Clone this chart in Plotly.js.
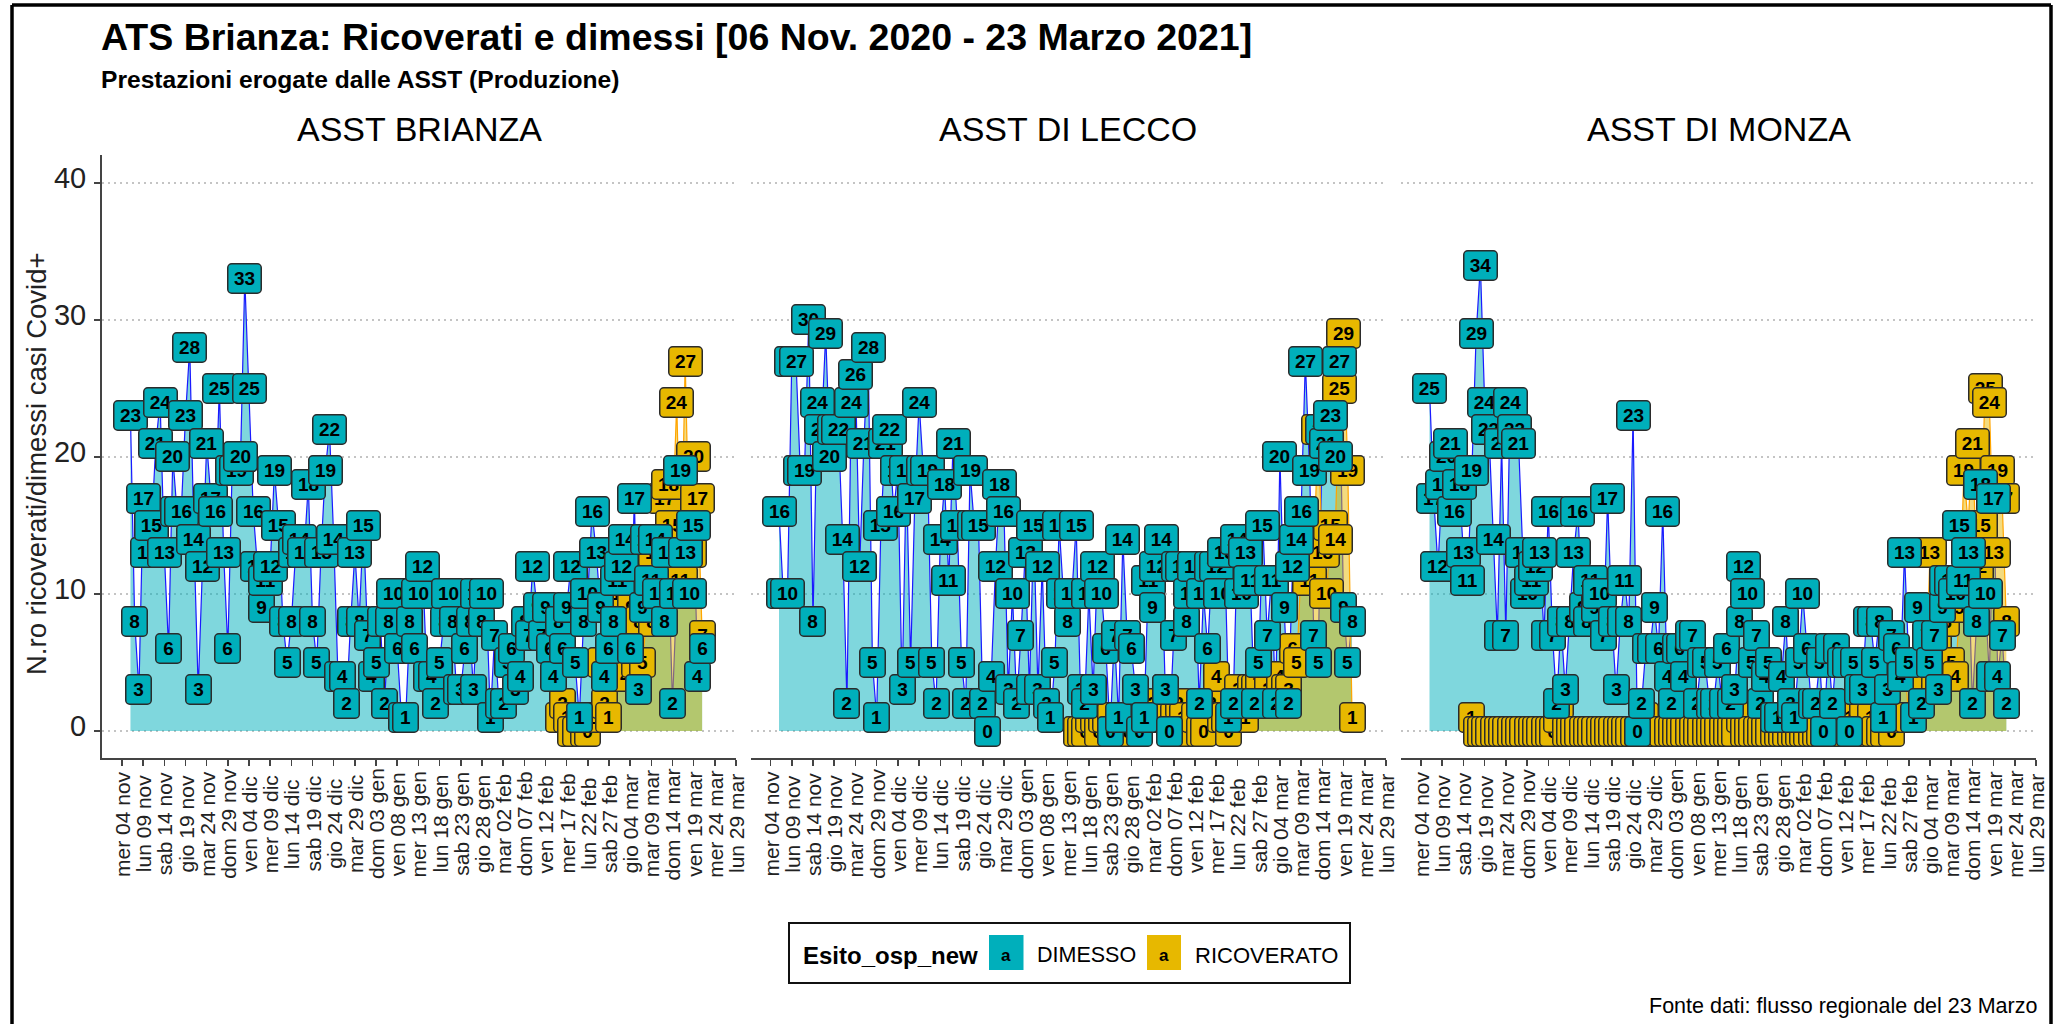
<!DOCTYPE html>
<html><head><meta charset="utf-8">
<script src="https://cdn.plot.ly/plotly-3.0.1.min.js"></script>
<style>html,body{margin:0;padding:0;background:#fff}#c{width:2063px;height:1024px}</style>
</head><body><div id="c"></div>
<script>
const panels = ['ASST BRIANZA','ASST DI LECCO','ASST DI MONZA'];
const tickDates = ['2020-11-04','2020-11-09','2020-11-14','2020-11-19','2020-11-24','2020-11-29','2020-12-04','2020-12-09','2020-12-14','2020-12-19','2020-12-24','2020-12-29','2021-01-03','2021-01-08','2021-01-13','2021-01-18','2021-01-23','2021-01-28','2021-02-02','2021-02-07','2021-02-12','2021-02-17','2021-02-22','2021-02-27','2021-03-04','2021-03-09','2021-03-14','2021-03-19','2021-03-24','2021-03-29'];
const tickLabels = ['mer 04 nov','lun 09 nov','sab 14 nov','gio 19 nov','mar 24 nov','dom 29 nov','ven 04 dic','mer 09 dic','lun 14 dic','sab 19 dic','gio 24 dic','mar 29 dic','dom 03 gen','ven 08 gen','mer 13 gen','lun 18 gen','sab 23 gen','gio 28 gen','mar 02 feb','dom 07 feb','ven 12 feb','mer 17 feb','lun 22 feb','sab 27 feb','gio 04 mar','mar 09 mar','dom 14 mar','ven 19 mar','mer 24 mar','lun 29 mar'];

const dimessiBrianza = [23,8,3,17,13,15,21,24,13,6,20,16,16,23,28,14,3,12,21,17,16,25,13,6,19,19,20,33,25,16,12,9,11,12,19,15,8,5,8,13,14,13,18,8,5,13,19,22,14,4,4,2,8,13,8,15,7,4,5,8,2,8,10,6,1,1,8,6,10,12,4,4,2,5,8,10,8,3,3,6,8,3,10,8,10,1,7,2,2,5,6,3,4,8,7,12,9,7,9,6,4,8,6,9,12,5,1,8,10,16,13,9,4,6,8,11,12,14,6,17,3,9,14,11,14,10,8,13,2,10,19,13,10,15,4,6];
const ricoveratiBrianzaStart = 101;
const ricoveratiBrianza = [1,2,1,0,0,1,0,0,1,1,5,2,1,4,6,10,4,9,5,8,5,9,8,13,10,17,18,15,24,11,27,13,20,17,7];

const dimessiLecco = [16,10,10,27,27,19,19,30,8,24,22,29,20,22,22,14,2,24,26,12,21,28,5,1,15,21,22,16,19,3,19,5,17,24,19,19,5,2,14,18,11,21,15,5,2,19,15,15,2,0,4,12,18,16,3,10,2,7,13,3,15,3,12,2,1,5,15,10,8,10,15,3,2,10,3,12,10,6,0,7,1,14,7,6,3,0,1,11,9,12,14,3,0,7,12,12,8,10,12,2,10,6,12,12,10,13,1,2,14,10,13,11,2,5,15,7,11,2,20,9,2,12,14,16,27,19,7,5,22,21,23,20,27,9,5,8];
const ricoveratiLeccoStart = 70;
const ricoveratiLecco = [0,0,0,1,1,0,1,1,1,0,0,1,0,1,1,2,2,2,2,1,1,3,1,1,2,1,0,0,1,0,0,2,2,4,1,1,0,1,3,2,1,3,3,4,2,3,2,2,4,3,3,6,5,12,12,11,13,22,13,10,15,14,25,29,19,1];

const dimessiMonza = [25,17,12,18,20,21,16,18,13,11,19,29,34,24,22,14,7,21,7,24,22,21,13,10,11,12,13,7,16,7,2,8,3,8,13,16,9,8,11,9,10,7,17,8,3,8,11,8,23,0,2,6,6,9,6,16,4,2,6,6,4,7,7,2,5,5,2,2,5,2,6,2,3,8,12,10,5,7,2,4,5,1,1,4,8,2,1,5,10,6,2,2,5,0,6,2,6,5,5,0,5,3,3,8,8,5,8,1,3,7,6,4,13,5,1,9,2,7,5,7,3,9,11,11,10,15,11,13,2,8,18,10,4,17,4,7,2];
const ricoveratiMonzaStart = 10;
const ricoveratiMonza = [1,0,0,0,0,0,0,0,0,0, 0,0,0,0,0,0,0,0,0,0, 1,2,0,0,0,0,0,0,0,0, 0,0,0,0,0,0,0,0,0,0, 0,1,0,0,0,0,0,0,0,0, 0,0,0,0,0,0,0,0,0,0, 0,0,0,1,0,0,0,0,0,0, 0,0,0,0,0,0,0,0,0,0, 0,0,0,0,0,0,1,0,0,1, 5,3,2,0,1,0,0,0,1,0, 1,4,5,1,4,4,5,3,13,3, 6,5,8,5,4,9,19,15,21,12, 15,25,24,13,19,17,8];

const TEAL='#00AFBB', GOLD='#E7B800', W=2063, H=1024;
const dayToDate = i => { const d=new Date(Date.UTC(2020,10,6+i)); return d.toISOString().slice(0,10); };
const px=v=>v/W, py=v=>1-v/H;
const dom=[[102,736],[750.5,1386],[1401,2036]];
const xr=['2020-10-30 06:43','2021-03-29 00:00'];
const yr=[-1.97,42.04];
const series=[
 {dim:dimessiBrianza,ric:ricoveratiBrianza,s:ricoveratiBrianzaStart},
 {dim:dimessiLecco,ric:ricoveratiLecco,s:ricoveratiLeccoStart},
 {dim:dimessiMonza,ric:ricoveratiMonza,s:ricoveratiMonzaStart}];

const traces=[], anns=[], layout={
 width:W,height:H,margin:{l:0,r:0,t:0,b:0},paper_bgcolor:'#fff',plot_bgcolor:'rgba(0,0,0,0)',showlegend:false,
 font:{family:'"Liberation Sans",Arial,sans-serif',color:'#000'}
};
function label(v,x,xref,color){
 const two=v>=10;
 anns.push({x:x,y:v,xref:xref,yref:xref.replace('x','y'),text:String(v),showarrow:false,xanchor:'center',yanchor:'middle',
  width:two?32:24,height:28,borderpad:0,borderwidth:1.5,bordercolor:'#2b2b2b',bgcolor:color,align:'center',valign:'middle',
  font:{size:19,family:'"Liberation Sans",Arial,sans-serif',color:'#000',weight:700}});
}
series.forEach((s,k)=>{
 const n=k?String(k+1):'', xa='x'+n, ya='y'+n;
 const xd=s.dim.map((_,i)=>dayToDate(i));
 const xrd=s.ric.map((_,i)=>dayToDate(i+s.s));
 traces.push({x:xd,y:s.dim,xaxis:xa,yaxis:ya,type:'scatter',mode:'lines',name:'DIMESSO',fill:'tozeroy',fillcolor:'rgba(0,175,187,0.5)',line:{color:'#1a1aff',width:1.2},hoverinfo:'skip'});
 traces.push({x:xrd,y:s.ric,xaxis:xa,yaxis:ya,type:'scatter',mode:'lines',name:'RICOVERATO',fill:'tozeroy',fillcolor:'rgba(231,184,0,0.5)',line:{color:'#ffa500',width:1.2},hoverinfo:'skip'});
 const ax={domain:[px(dom[k][0]),px(dom[k][1])],type:'date',range:xr,anchor:ya,tickmode:'array',tickvals:tickDates,ticktext:tickDates.map(()=>''),
   showgrid:false,showline:true,linecolor:'#444',linewidth:2,ticks:'outside',ticklen:6,tickwidth:1.5,tickcolor:'#444',zeroline:false};
 const ay={domain:[py(758),py(155)],range:yr,anchor:xa,tickmode:'array',tickvals:[0,10,20,30,40],ticktext:k?['','','','','']:['0','10','20','30','40'],
   showgrid:true,gridcolor:'#c4c4c4',griddash:'2px,4px',gridwidth:1.5,zeroline:false,showline:k===0,linecolor:'#444',linewidth:2,
   ticks:k?'':'outside',ticklen:6,tickwidth:1.5,tickcolor:'#444',tickfont:{size:29,color:'#222'},ticklabelshift:-5,ticklabelstandoff:2};
 layout['xaxis'+n]=ax; layout['yaxis'+n]=ay;
 s.ric.forEach((v,i)=>label(v,xrd[i],xa,GOLD));
 s.dim.forEach((v,i)=>label(v,xd[i],xa,TEAL));
 tickDates.forEach((d,i)=>anns.push({x:d,xref:xa,y:py(824),yref:'paper',text:tickLabels[i],textangle:-90,showarrow:false,xanchor:'center',yanchor:'middle',font:{size:21,color:'#222'}}));
 anns.push({x:px((dom[k][0]+dom[k][1])/2),xref:'paper',y:py(129),yref:'paper',text:panels[k],showarrow:false,xanchor:'center',yanchor:'middle',font:{size:34,color:'#000'}});
});
function txt(t,x,y,xa,size,bold){anns.push({x:px(x),y:py(y),xref:'paper',yref:'paper',text:t,showarrow:false,xanchor:xa,yanchor:'middle',font:{size:size,color:'#000',weight:bold?700:400}});}
txt('ATS Brianza: Ricoverati e dimessi [06 Nov. 2020 - 23 Marzo 2021]',99,37,'left',37.5,true);
txt('Prestazioni erogate dalle ASST (Produzione)',99,79,'left',24.6,true);
txt('Esito_osp_new',890,955,'center',24,true);
txt('a',1006,955,'center',17,true);
txt('DIMESSO',1035,955,'left',21.5,false);
txt('a',1164,955,'center',17,true);
txt('RICOVERATO',1193,955,'left',22,false);
txt('Fonte dati: flusso regionale del 23 Marzo',2039,1006,'right',21.5,false);
anns.push({x:px(36),y:py(464),xref:'paper',yref:'paper',text:'N.ro ricoverati/dimessi casi Covid+',textangle:-90,showarrow:false,xanchor:'center',yanchor:'middle',font:{size:27.5,color:'#222'}});
const rect=(x0,y0,x1,y1,fill,lc,lw)=>({type:'rect',xref:'paper',yref:'paper',x0:px(x0),x1:px(x1),y0:py(y0),y1:py(y1),fillcolor:fill,line:{color:lc,width:lw},layer:'below'});
const seg=(x0,y0,x1,y1)=>({type:'line',xref:'paper',yref:'paper',x0:px(x0),x1:px(x1),y0:py(y0),y1:py(y1),line:{color:'#000',width:3.5}});
layout.shapes=[seg(12,5,2051,5),seg(12,5,12,1024),seg(2051,5,2051,1024),
 rect(789,923,1350,983,'#fff','#111',2),rect(989,935,1023.5,970,TEAL,TEAL,0),rect(1147,935,1181,970,GOLD,GOLD,0)];
layout.annotations=anns;
Plotly.newPlot('c',traces,layout,{staticPlot:true,displayModeBar:false}).then(()=>{
 document.querySelectorAll('.annotation rect.bg').forEach(r=>{r.setAttribute('rx','4');r.setAttribute('ry','4');});
});
</script></body></html>
